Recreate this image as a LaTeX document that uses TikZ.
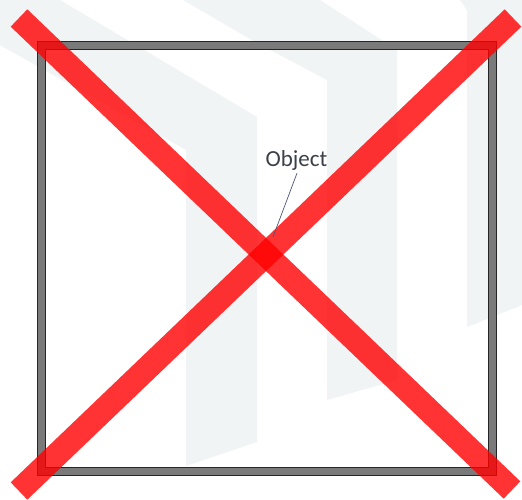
\documentclass[tikz,border=0pt]{standalone}
\usepackage{fontspec}
\setmainfont{Carlito}
\begin{document}
\begin{tikzpicture}[x=1pt,y=-1pt,
  wm/.style={fill=wmcol,draw=none},
  frame/.style={draw=black!85,double=black!52,double distance=7pt,line width=1pt,minimum width=450.5pt,minimum height=426pt,inner sep=0pt},
  cross/.style={draw=red,opacity=0.8,line width=24pt},
  lead/.style={draw=leadcol,line width=0.7pt},
  lab/.style={text=textcol,font=\fontsize{23}{27}\selectfont,inner sep=0pt}]
\definecolor{wmcol}{HTML}{F0F4F5}
\definecolor{leadcol}{HTML}{4A5878}
\definecolor{textcol}{HTML}{3C4048}
\useasboundingbox (0,0) rectangle (522,500);
\fill[white] (0,0) rectangle (522,500);
% faint watermark shapes
\fill[wm] (0,0) -- (60,0) -- (257,117) -- (257,442) -- (186,466) -- (186,150) -- (0,45) -- cycle;
\fill[wm] (183,0) -- (320,0) -- (397,50) -- (397,380) -- (327,400) -- (327,80) -- (257,43) -- cycle;
\fill[wm] (460,0) -- (522,0) -- (522,305) -- (467,327) -- (467,10) -- cycle;
% square frame
\node[frame] (sq) at (266.75,258.5) {};
% red cross
\coordinate (a1) at (19,18);
\coordinate (a2) at (512,490);
\coordinate (b1) at (513,18);
\coordinate (b2) at (19,491);
\draw[cross] (a1) -- (a2);
\draw[cross] (b1) -- (b2);
% label
\node[lab] (lbl) at (296.5,160) {Object};
\coordinate (tip) at (273,237);
\draw[lead] ([shift={(0.5,3)}]lbl.south) -- (tip);
\end{tikzpicture}
\end{document}
